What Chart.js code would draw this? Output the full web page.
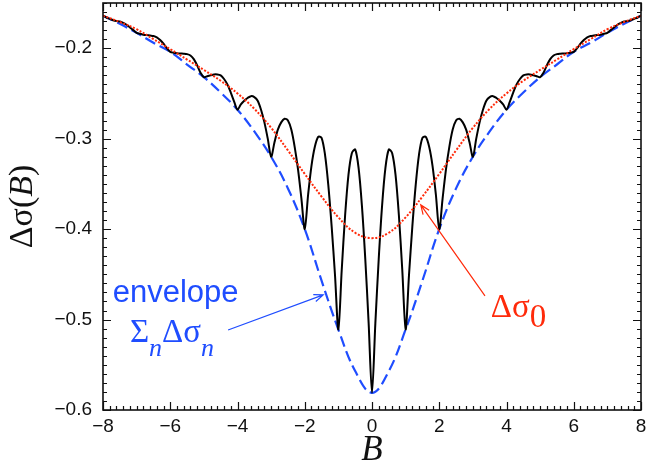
<!DOCTYPE html>
<html>
<head>
<meta charset="utf-8">
<script src="https://cdn.jsdelivr.net/npm/chart.js@4.4.0/dist/chart.umd.min.js"></script>
<style>
  html, body { margin: 0; padding: 0; background: #fff; }
  #grafico { display: block; }
</style>
</head>
<body>
<canvas id="grafico" width="646" height="467"></canvas>
<script>
// campo B para la curva negra (paso 0.1)
const campoB = [
  -8.0, -7.9, -7.8, -7.7, -7.6, -7.5, -7.4, -7.3, -7.2, -7.1,
  -7.0, -6.9, -6.8, -6.7, -6.6, -6.5, -6.4, -6.3, -6.2, -6.1,
  -6.0, -5.9, -5.8, -5.7, -5.6, -5.5, -5.4, -5.3, -5.2, -5.1,
  -5.0, -4.9, -4.8, -4.7, -4.6, -4.5, -4.4, -4.3, -4.2, -4.1,
  -4.0, -3.9, -3.8, -3.7, -3.6, -3.5, -3.4, -3.3, -3.2, -3.1,
  -3.0, -2.9, -2.8, -2.7, -2.6, -2.5, -2.4, -2.3, -2.2, -2.1,
  -2.0, -1.9, -1.8, -1.7, -1.6, -1.5, -1.4, -1.3, -1.2, -1.1,
  -1.0, -0.9, -0.8, -0.7, -0.6, -0.5, -0.4, -0.3, -0.2, -0.1,
  0.0, 0.1, 0.2, 0.3, 0.4, 0.5, 0.6, 0.7, 0.8, 0.9,
  1.0, 1.1, 1.2, 1.3, 1.4, 1.5, 1.6, 1.7, 1.8, 1.9,
  2.0, 2.1, 2.2, 2.3, 2.4, 2.5, 2.6, 2.7, 2.8, 2.9,
  3.0, 3.1, 3.2, 3.3, 3.4, 3.5, 3.6, 3.7, 3.8, 3.9,
  4.0, 4.1, 4.2, 4.3, 4.4, 4.5, 4.6, 4.7, 4.8, 4.9,
  5.0, 5.1, 5.2, 5.3, 5.4, 5.5, 5.6, 5.7, 5.8, 5.9,
  6.0, 6.1, 6.2, 6.3, 6.4, 6.5, 6.6, 6.7, 6.8, 6.9,
  7.0, 7.1, 7.2, 7.3, 7.4, 7.5, 7.6, 7.7, 7.8, 7.9,
  8.0
];

// curva negra (con oscilaciones)
const sigmaTotal = [
  -0.164, -0.166, -0.1675, -0.169, -0.170, -0.1705, -0.172, -0.174, -0.177, -0.180,
  -0.183, -0.184, -0.185, -0.1855, -0.186, -0.1865, -0.188, -0.191, -0.195, -0.200,
  -0.204, -0.205, -0.2055, -0.2058, -0.206, -0.2065, -0.208, -0.212, -0.219, -0.227,
  -0.232, -0.231, -0.230, -0.229, -0.229, -0.230, -0.234, -0.240, -0.249, -0.259,
  -0.268, -0.262, -0.258, -0.255, -0.253, -0.254, -0.258, -0.268, -0.282, -0.300,
  -0.320, -0.304, -0.290, -0.282, -0.278, -0.280, -0.290, -0.309, -0.334, -0.366,
  -0.400, -0.362, -0.330, -0.309, -0.298, -0.299, -0.317, -0.351, -0.397, -0.451,
  -0.511, -0.445, -0.385, -0.340, -0.316, -0.312, -0.332, -0.374, -0.433, -0.504,
  -0.581, -0.504, -0.433, -0.374, -0.332, -0.312, -0.316, -0.340, -0.385, -0.445,
  -0.511, -0.451, -0.397, -0.351, -0.317, -0.299, -0.298, -0.309, -0.330, -0.362,
  -0.400, -0.366, -0.334, -0.309, -0.290, -0.280, -0.278, -0.282, -0.290, -0.304,
  -0.320, -0.300, -0.282, -0.268, -0.258, -0.254, -0.253, -0.255, -0.258, -0.262,
  -0.268, -0.259, -0.249, -0.240, -0.234, -0.230, -0.229, -0.229, -0.230, -0.231,
  -0.232, -0.227, -0.219, -0.212, -0.208, -0.2065, -0.206, -0.2058, -0.2055, -0.205,
  -0.204, -0.200, -0.195, -0.191, -0.188, -0.1865, -0.186, -0.1855, -0.185, -0.184,
  -0.183, -0.180, -0.177, -0.174, -0.172, -0.1705, -0.170, -0.169, -0.1675, -0.166,
  -0.164
];

// campo B para las curvas suaves (paso 0.5)
const campoSuave = [
  -8.0, -7.5, -7.0, -6.5, -6.0, -5.5, -5.0, -4.5, -4.0, -3.5, -3.0, -2.5, -2.0, -1.5, -1.0, -0.5,
  0.0, 0.5, 1.0, 1.5, 2.0, 2.5, 3.0, 3.5, 4.0, 4.5, 5.0, 5.5, 6.0, 6.5, 7.0, 7.5, 8.0
];

// envolvente (azul, discontinua)
const envolvente = [
  -0.164, -0.173, -0.183, -0.194, -0.204, -0.218, -0.232, -0.249, -0.268, -0.292, -0.320, -0.355, -0.400, -0.457, -0.511, -0.557,
  -0.581, -0.557, -0.511, -0.457, -0.400, -0.355, -0.320, -0.292, -0.268, -0.249, -0.232, -0.218, -0.204, -0.194, -0.183, -0.173, -0.164
];

// delta sigma 0 (rojo, punteada)
const sigmaCero = [
  -0.164, -0.171, -0.179, -0.190, -0.201, -0.2125, -0.224, -0.236, -0.250, -0.267, -0.288, -0.313, -0.339, -0.364, -0.387, -0.404,
  -0.410, -0.404, -0.387, -0.364, -0.339, -0.313, -0.288, -0.267, -0.250, -0.236, -0.224, -0.2125, -0.201, -0.190, -0.179, -0.171, -0.164
];

const ticksX = [-8, -6, -4, -2, 0, 2, 4, 6, 8];
const ticksY = [-0.6, -0.5, -0.4, -0.3, -0.2];

const fuenteSans = '"Liberation Sans", Arial, Helvetica, sans-serif';
const fuenteSerif = '"Liberation Serif", "Times New Roman", serif';
const azul = '#1f4dff';
const rojo = '#ff2a0a';

function aPuntos(xs, ys) {
  return xs.map((x, i) => ({ x: x, y: ys[i] }));
}

function conMenos(texto) {
  return String(texto).replace('-', '\u2212');
}

function flecha(ctx, x0, y0, x1, y1, color) {
  const ang = Math.atan2(y1 - y0, x1 - x0);
  const largo = 10, abre = 0.38;
  ctx.strokeStyle = color;
  ctx.lineWidth = 1.2;
  ctx.beginPath();
  ctx.moveTo(x0, y0);
  ctx.lineTo(x1, y1);
  ctx.moveTo(x1 - largo * Math.cos(ang - abre), y1 - largo * Math.sin(ang - abre));
  ctx.lineTo(x1, y1);
  ctx.lineTo(x1 - largo * Math.cos(ang + abre), y1 - largo * Math.sin(ang + abre));
  ctx.stroke();
}

// marco con marcas hacia adentro, flechas y textos
const marcoYTextos = {
  id: 'marcoYTextos',
  afterDraw(chart) {
    const ctx = chart.ctx;
    const a = chart.chartArea;
    const sx = chart.scales.x, sy = chart.scales.y;
    ctx.save();

    ctx.strokeStyle = '#111';
    ctx.lineWidth = 1.6;
    ctx.strokeRect(a.left, a.top, a.right - a.left, a.bottom - a.top);

    ctx.lineWidth = 1.2;
    ctx.beginPath();
    for (let i = 0; i <= 80; i++) {
      const px = Math.round(sx.getPixelForValue(-8 + i * 0.2)) + 0.5;
      const largo = i % 10 === 0 ? 8 : 4;
      ctx.moveTo(px, a.bottom); ctx.lineTo(px, a.bottom - largo);
      ctx.moveTo(px, a.top); ctx.lineTo(px, a.top + largo);
    }
    for (let i = 0; i <= 45; i++) {
      const py = Math.round(sy.getPixelForValue(-0.6 + i * 0.01)) + 0.5;
      const largo = i % 10 === 0 ? 8 : 4;
      ctx.moveTo(a.left, py); ctx.lineTo(a.left + largo, py);
      ctx.moveTo(a.right, py); ctx.lineTo(a.right - largo, py);
    }
    ctx.stroke();

    // flechas
    flecha(ctx, sx.getPixelForValue(-4.28), sy.getPixelForValue(-0.5115),
           sx.getPixelForValue(-1.45), sy.getPixelForValue(-0.4727), azul);
    flecha(ctx, sx.getPixelForValue(3.36), sy.getPixelForValue(-0.4738),
           sx.getPixelForValue(1.45), sy.getPixelForValue(-0.3732), rojo);

    ctx.textBaseline = 'alphabetic';
    ctx.textAlign = 'left';

    // envelope
    ctx.fillStyle = azul;
    ctx.font = '31px ' + fuenteSans;
    ctx.fillText('envelope', sx.getPixelForValue(-7.71), sy.getPixelForValue(-0.4804));

    // Σn Δσn
    let x = sx.getPixelForValue(-7.20);
    const yb = sy.getPixelForValue(-0.5246);
    ctx.font = '33px ' + fuenteSerif;
    ctx.fillText('\u03A3', x, yb);
    x += ctx.measureText('\u03A3').width;
    ctx.font = 'italic 26px ' + fuenteSerif;
    ctx.fillText('n', x, yb + 14);
    x += ctx.measureText('n').width;
    ctx.font = '33px ' + fuenteSerif;
    ctx.fillText('\u0394\u03C3', x, yb);
    x += ctx.measureText('\u0394\u03C3').width;
    ctx.font = 'italic 26px ' + fuenteSerif;
    ctx.fillText('n', x, yb + 14);

    // Δσ0
    ctx.fillStyle = rojo;
    x = sx.getPixelForValue(3.53);
    const yr = sy.getPixelForValue(-0.4972);
    ctx.font = '33px ' + fuenteSerif;
    ctx.fillText('\u0394\u03C3', x, yr);
    x += ctx.measureText('\u0394\u03C3').width;
    ctx.fillText('0', x, yr + 10);

    // titulo eje x
    ctx.fillStyle = '#111';
    ctx.textAlign = 'center';
    ctx.font = 'italic 35px ' + fuenteSerif;
    ctx.fillText('B', sx.getPixelForValue(0), 460);

    // titulo eje y (rotado)
    ctx.translate(32, (a.top + a.bottom) / 2);
    ctx.rotate(-Math.PI / 2);
    ctx.textAlign = 'left';
    const partes = [
      ['\u0394\u03C3(', '34px ' + fuenteSerif],
      ['B', 'italic 34px ' + fuenteSerif],
      [')', '34px ' + fuenteSerif]
    ];
    let total = 0;
    partes.forEach(p => { ctx.font = p[1]; total += ctx.measureText(p[0]).width; });
    let xx = -total / 2;
    partes.forEach(p => {
      ctx.font = p[1];
      ctx.fillText(p[0], xx, 0);
      xx += ctx.measureText(p[0]).width;
    });

    ctx.restore();
  }
};

const config = {
  type: 'line',
  data: {
    datasets: [
      {
        label: 'Δσ0',
        data: aPuntos(campoSuave, sigmaCero),
        borderColor: rojo,
        borderWidth: 2,
        borderDash: [2, 1.6],
        tension: 0.4,
        pointRadius: 0,
        order: 0
      },
      {
        label: 'Δσ(B)',
        data: aPuntos(campoB, sigmaTotal),
        borderColor: '#000',
        borderWidth: 2,
        tension: 0.3,
        pointRadius: 0,
        order: 1
      },
      {
        label: 'envelope',
        data: aPuntos(campoSuave, envolvente),
        borderColor: azul,
        borderWidth: 2.2,
        borderDash: [11, 5],
        tension: 0.4,
        pointRadius: 0,
        order: 2
      }
    ]
  },
  options: {
    responsive: false,
    animation: false,
    devicePixelRatio: 1,
    events: [],
    layout: { padding: { top: 3, right: 5, left: 0, bottom: 0 } },
    plugins: { legend: { display: false }, tooltip: { enabled: false } },
    scales: {
      x: {
        type: 'linear',
        min: -8,
        max: 8,
        grid: { display: false, drawTicks: false },
        border: { display: false },
        afterBuildTicks: (scale) => { scale.ticks = ticksX.map(v => ({ value: v })); },
        afterFit: (scale) => {
          scale.height = 57;
          scale.paddingLeft = 0;
          scale.paddingRight = 0;
        },
        ticks: {
          padding: 5,
          maxRotation: 0,
          color: '#111',
          font: { family: fuenteSans, size: 19 },
          callback: (v) => conMenos(v)
        }
      },
      y: {
        type: 'linear',
        min: -0.6,
        max: -0.15,
        grid: { display: false, drawTicks: false },
        border: { display: false },
        afterBuildTicks: (scale) => { scale.ticks = ticksY.map(v => ({ value: v })); },
        afterFit: (scale) => {
          scale.width = 103;
          scale.paddingTop = 0;
          scale.paddingBottom = 0;
        },
        ticks: {
          padding: 11,
          color: '#111',
          font: { family: fuenteSans, size: 19 },
          callback: (v) => conMenos(Number(v).toFixed(1))
        }
      }
    }
  },
  plugins: [marcoYTextos]
};

new Chart(document.getElementById('grafico'), config);
</script>
</body>
</html>
